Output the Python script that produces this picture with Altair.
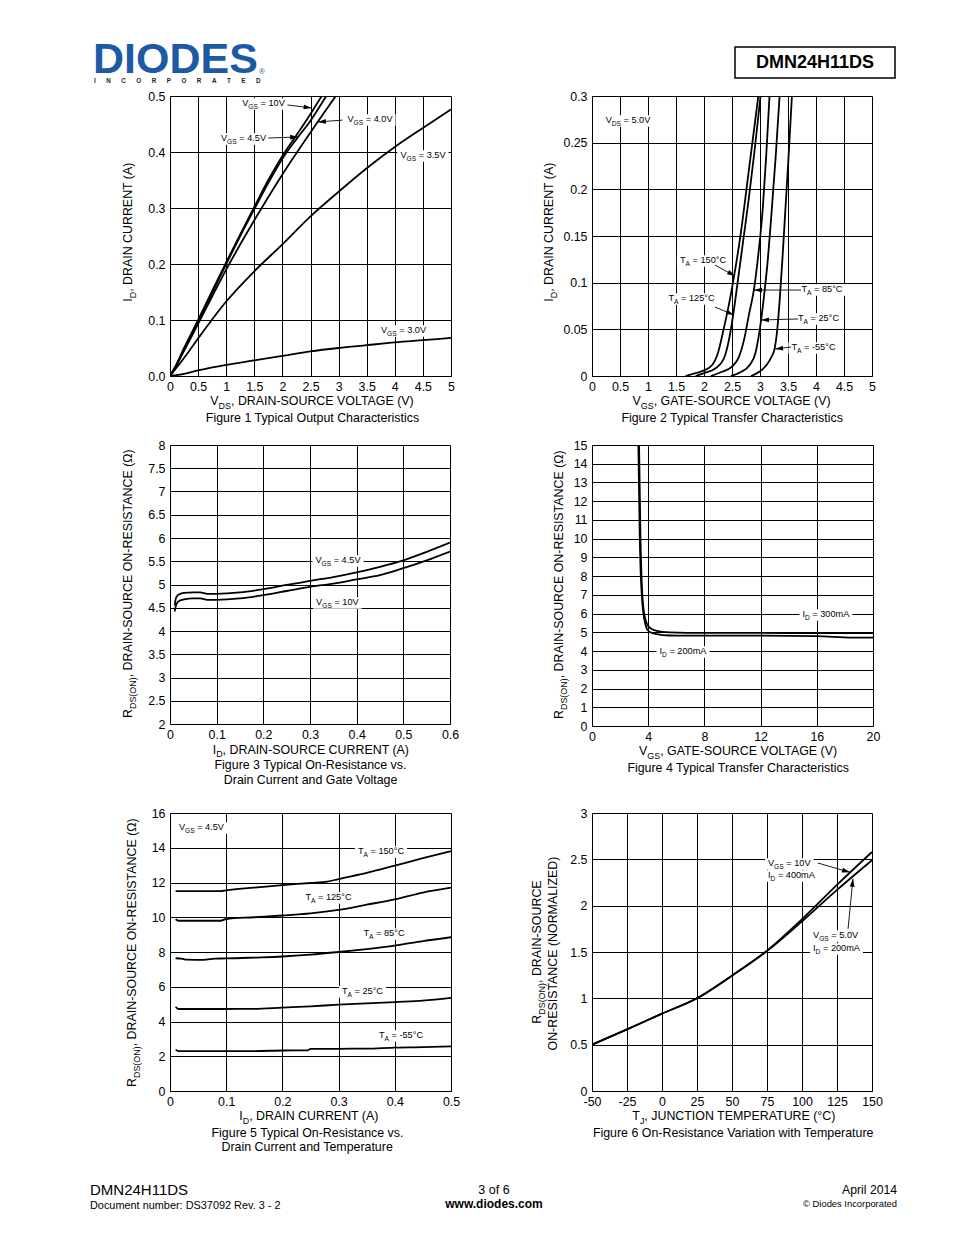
import math
import altair as alt
import pandas as pd

FONT = "Liberation Sans"
SUB = 0.72
LBL = 12.4
ANN = 9.2
BLUE = "#1c5aa6"

# ---------------- Figure 1 : ID vs VDS ----------------
f1_vds_10v = [0, 0.1, 0.25, 0.5, 0.75, 1.0, 1.25, 1.5, 1.75, 2.0, 2.25, 2.5, 2.7]
f1_id_10v = [0, 0.018, 0.05, 0.1, 0.152, 0.203, 0.253, 0.302, 0.35, 0.393, 0.43, 0.468, 0.5]
f1_vds_45v = [0, 0.1, 0.25, 0.5, 0.75, 1.0, 1.25, 1.5, 1.75, 2.0, 2.25, 2.5, 2.78]
f1_id_45v = [0, 0.017, 0.048, 0.098, 0.148, 0.2, 0.25, 0.298, 0.345, 0.388, 0.423, 0.456, 0.5]
f1_vds_40v = [0, 0.1, 0.25, 0.5, 0.75, 1.0, 1.5, 2.0, 2.5, 2.95]
f1_id_40v = [0, 0.016, 0.045, 0.093, 0.142, 0.19, 0.278, 0.36, 0.435, 0.5]
f1_vds_35v = [0, 0.25, 0.5, 1, 1.5, 2, 2.5, 3, 3.5, 4, 4.5, 5]
f1_id_35v = [0, 0.032, 0.067, 0.133, 0.187, 0.235, 0.285, 0.329, 0.371, 0.409, 0.443, 0.476]
f1_vds_30v = [0, 0.25, 0.5, 1, 1.5, 2, 2.5, 3, 3.5, 4, 4.5, 5]
f1_id_30v = [0, 0.004, 0.01, 0.02, 0.028, 0.036, 0.044, 0.05, 0.055, 0.06, 0.064, 0.068]
f1_xticks = [0, 0.5, 1, 1.5, 2, 2.5, 3, 3.5, 4, 4.5, 5]
f1_yticks = [0, 0.1, 0.2, 0.3, 0.4, 0.5]

# ---------------- Figure 2 : ID vs VGS ----------------
f2_vgs_150 = [1.67, 1.85, 2.0, 2.15, 2.25, 2.35, 2.45, 2.54, 2.65, 2.8, 2.97]
f2_id_150 = [0, 0.003, 0.006, 0.012, 0.025, 0.05, 0.078, 0.108, 0.15, 0.22, 0.3]
f2_vgs_125 = [1.85, 2.0, 2.2, 2.35, 2.45, 2.52, 2.6, 2.7, 2.8, 2.9, 3.01]
f2_id_125 = [0, 0.003, 0.008, 0.018, 0.04, 0.065, 0.1, 0.145, 0.19, 0.24, 0.3]
f2_vgs_85 = [2.12, 2.3, 2.5, 2.62, 2.72, 2.8, 2.89, 2.97, 3.05, 3.11, 3.17]
f2_id_85 = [0, 0.004, 0.01, 0.02, 0.04, 0.065, 0.092, 0.13, 0.18, 0.235, 0.3]
f2_vgs_25 = [2.48, 2.65, 2.82, 2.92, 2.97, 3.02, 3.08, 3.14, 3.2, 3.28, 3.35]
f2_id_25 = [0, 0.004, 0.012, 0.025, 0.04, 0.06, 0.09, 0.125, 0.17, 0.235, 0.3]
f2_vgs_m55 = [2.84, 3.0, 3.12, 3.2, 3.26, 3.3, 3.35, 3.4, 3.45, 3.51, 3.57]
f2_id_m55 = [0, 0.005, 0.012, 0.02, 0.029, 0.045, 0.08, 0.125, 0.175, 0.235, 0.3]
f2_xticks = [0, 0.5, 1, 1.5, 2, 2.5, 3, 3.5, 4, 4.5, 5]
f2_yticks = [0, 0.05, 0.1, 0.15, 0.2, 0.25, 0.3]

# ---------------- Figure 3 : RDS(on) vs ID ----------------
f3_id = [0.01, 0.012, 0.015, 0.02, 0.03, 0.05, 0.065, 0.08, 0.1, 0.15, 0.2, 0.25, 0.3, 0.35, 0.4, 0.45, 0.5, 0.55, 0.6]
f3_r_45v = [4.55, 4.68, 4.75, 4.79, 4.82, 4.83, 4.83, 4.80, 4.80, 4.83, 4.90, 4.99, 5.08, 5.16, 5.26, 5.38, 5.52, 5.70, 5.90]
f3_r_10v = [4.42, 4.52, 4.60, 4.65, 4.68, 4.70, 4.70, 4.67, 4.67, 4.70, 4.77, 4.86, 4.95, 5.02, 5.11, 5.20, 5.35, 5.52, 5.71]
f3_xticks = [0, 0.1, 0.2, 0.3, 0.4, 0.5, 0.6]
f3_yticks = [2, 2.5, 3, 3.5, 4, 4.5, 5, 5.5, 6, 6.5, 7, 7.5, 8]

# ---------------- Figure 4 : RDS(on) vs VGS ----------------
f4_vgs_300 = [3.35, 3.4, 3.45, 3.5, 3.56, 3.62, 3.7, 3.8, 3.95, 4.2, 4.6, 5.5, 8, 12, 16, 20]
f4_r_300 = [15, 12.5, 10, 8.5, 7.3, 6.6, 6.05, 5.7, 5.4, 5.2, 5.08, 5.0, 4.97, 4.97, 4.96, 4.96]
f4_vgs_200 = [3.3, 3.35, 3.4, 3.45, 3.52, 3.58, 3.66, 3.76, 3.9, 4.15, 4.6, 5.5, 8, 12, 16, 18.5, 20]
f4_r_200 = [15, 12.5, 10, 8.5, 7.3, 6.6, 6.0, 5.55, 5.2, 5.0, 4.9, 4.83, 4.82, 4.82, 4.8, 4.72, 4.72]
f4_xticks = [0, 4, 8, 12, 16, 20]
f4_yticks = list(range(0, 16))

# ---------------- Figure 5 : RDS(on) vs ID and temperature ----------------
f5_id_150 = [0.01, 0.05, 0.09, 0.1, 0.15, 0.2, 0.25, 0.28, 0.3, 0.35, 0.4, 0.45, 0.5]
f5_r_150 = [11.5, 11.5, 11.5, 11.55, 11.7, 11.85, 11.97, 12.05, 12.2, 12.55, 12.97, 13.4, 13.8]
f5_id_125 = [0.01, 0.015, 0.05, 0.09, 0.1, 0.15, 0.2, 0.25, 0.3, 0.35, 0.4, 0.45, 0.5]
f5_r_125 = [9.88, 9.8, 9.8, 9.8, 9.9, 10.0, 10.1, 10.22, 10.42, 10.72, 11.03, 11.42, 11.7]
f5_id_85 = [0.01, 0.02, 0.03, 0.06, 0.08, 0.1, 0.15, 0.2, 0.25, 0.3, 0.35, 0.4, 0.45, 0.5]
f5_r_85 = [7.64, 7.62, 7.56, 7.55, 7.62, 7.63, 7.68, 7.74, 7.85, 8.0, 8.17, 8.37, 8.63, 8.85]
f5_id_25 = [0.01, 0.015, 0.1, 0.15, 0.2, 0.25, 0.3, 0.35, 0.4, 0.45, 0.5]
f5_r_25 = [4.85, 4.72, 4.72, 4.73, 4.8, 4.87, 4.97, 5.04, 5.12, 5.2, 5.36]
f5_id_m55 = [0.01, 0.015, 0.1, 0.15, 0.2, 0.245, 0.25, 0.3, 0.35, 0.4, 0.45, 0.5]
f5_r_m55 = [2.38, 2.3, 2.3, 2.3, 2.33, 2.34, 2.42, 2.43, 2.44, 2.5, 2.52, 2.57]
f5_xticks = [0, 0.1, 0.2, 0.3, 0.4, 0.5]
f5_yticks = [0, 2, 4, 6, 8, 10, 12, 14, 16]

# ---------------- Figure 6 : normalized RDS(on) vs TJ ----------------
f6_tj = [-50, -25, 0, 25, 50, 75, 100, 125, 150]
f6_r_10v = [0.5, 0.665, 0.835, 1.0, 1.245, 1.515, 1.855, 2.225, 2.58]
f6_r_5v = [0.5, 0.665, 0.835, 1.0, 1.245, 1.51, 1.83, 2.17, 2.49]
f6_xticks = [-50, -25, 0, 25, 50, 75, 100, 125, 150]
f6_yticks = [0, 0.5, 1, 1.5, 2, 2.5, 3]

# ---------------- text helpers ----------------
AW = {' ': 278, '!': 278, '(': 333, ')': 333, ',': 278, '-': 333, '.': 278, '/': 278, ':': 278,
      '=': 584, '°': 400, 'Ω': 768, '©': 737,
      'A': 667, 'B': 667, 'C': 722, 'D': 722, 'E': 667, 'F': 611, 'G': 778, 'H': 722, 'I': 278,
      'J': 500, 'K': 667, 'L': 556, 'M': 833, 'N': 722, 'O': 778, 'P': 667, 'Q': 778, 'R': 722,
      'S': 667, 'T': 611, 'U': 722, 'V': 667, 'W': 944, 'X': 667, 'Y': 667, 'Z': 611,
      'a': 556, 'b': 556, 'c': 500, 'd': 556, 'e': 556, 'f': 278, 'g': 556, 'h': 556, 'i': 222,
      'j': 222, 'k': 500, 'l': 222, 'm': 833, 'n': 556, 'o': 556, 'p': 556, 'q': 556, 'r': 333,
      's': 500, 't': 278, 'u': 556, 'v': 500, 'w': 722, 'x': 500, 'y': 500, 'z': 500}


def tw(s, size):
    return sum(AW.get(c, 556) for c in s) * size / 1000.0


ONE = alt.Data(values=[{"k": 0}])


def ptxt(text, x, y, size, align="left", angle=None, bold=False, color="black"):
    kw = dict(text=text, font=FONT, fontSize=size, align=align, baseline="alphabetic", color=color)
    if angle is not None:
        kw["angle"] = angle
    if bold:
        kw["fontWeight"] = "bold"
    return alt.Chart(ONE).mark_text(**kw).encode(x=alt.value(x), y=alt.value(y))


def seg_layout(segs, size):
    out, pos = [], 0.0
    for s, sub in segs:
        fs = size * SUB if sub else size
        lead = len(s) - len(s.lstrip(" "))
        out.append((s.strip(" "), pos + tw(" " * lead, fs), fs, sub))
        pos += tw(s, fs)
    return out, pos


def rich_px(segs, cx, cy, size, align="center"):
    items, total = seg_layout(segs, size)
    x0 = cx - total / 2 if align == "center" else cx
    base = cy + 0.355 * size
    return [ptxt(t, x0 + off, base + (0.28 * size if sub else 0), fs)
            for t, off, fs, sub in items if t]


def rich_px_v(segs, cx, cy, size):
    items, total = seg_layout(segs, size)
    y0 = cy + total / 2
    base = cx + 0.355 * size
    return [ptxt(t, base + (0.28 * size if sub else 0), y0 - off, fs, angle=270)
            for t, off, fs, sub in items if t]


class Frame:
    """Linear mapping of a panel's data domain onto its pixel box (same as the chart scales)."""

    def __init__(self, xdom, ydom, w, h):
        self.xdom, self.ydom, self.w, self.h = xdom, ydom, w, h

    def px(self, x):
        return (x - self.xdom[0]) / (self.xdom[1] - self.xdom[0]) * self.w

    def py(self, y):
        return self.h - (y - self.ydom[0]) / (self.ydom[1] - self.ydom[0]) * self.h


def anno(fr, segs, xd, yd, align="center", size=ANN):
    items, total = seg_layout(segs, size)
    cx, cy = fr.px(xd), fr.py(yd)
    x0 = cx - total / 2 if align == "center" else cx
    L = [alt.Chart(ONE).mark_rect(color="white").encode(
        x=alt.value(x0 - 3), x2=alt.value(x0 + total + 3), y=alt.value(cy - 4.8), y2=alt.value(cy + 6.8))]
    base = cy + 0.355 * size
    for t, off, fs, sub in items:
        if t:
            L.append(ptxt(t, x0 + off, base + (0.28 * size if sub else 0), fs))
    return L


HEAD = "M0,0L0.6,2L-0.6,2Z"


def arrow(fr, x1, y1, x2, y2):
    a1, b1, a2, b2 = fr.px(x1), fr.py(y1), fr.px(x2), fr.py(y2)
    ang = math.degrees(math.atan2(a2 - a1, -(b2 - b1))) % 360
    rule = alt.Chart(ONE).mark_rule(color="black", strokeWidth=0.9).encode(
        x=alt.value(a1), y=alt.value(b1), x2=alt.value(a2), y2=alt.value(b2))
    head = alt.Chart(ONE).mark_point(shape=HEAD, size=64, angle=ang, filled=True, color="black",
                                     opacity=1, strokeWidth=0).encode(x=alt.value(a2), y=alt.value(b2))
    return [rule, head]


def curves(pairs):
    rows = []
    for name, xs, ys in pairs:
        for a, b in zip(xs, ys):
            rows.append({"x": a, "y": b, "s": name})
    return pd.DataFrame(rows)


def panel(df, xdom, ydom, xvals, yvals, w, h, anns, arrows, texts, xfmt="~g", yfmt="~g", xexpr=None):
    fr = Frame(xdom, ydom, w, h)
    xa = dict(values=xvals, title=None)
    if xexpr:
        xa["labelExpr"] = xexpr
    else:
        xa["format"] = xfmt
    base = alt.Chart(df).mark_line(color="black", strokeWidth=1.8, interpolate="monotone", clip=True).encode(
        x=alt.X("x:Q", scale=alt.Scale(domain=xdom, nice=False, zero=False), axis=alt.Axis(**xa)),
        y=alt.Y("y:Q", scale=alt.Scale(domain=ydom, nice=False, zero=False),
                axis=alt.Axis(values=yvals, format=yfmt, title=None)),
        detail="s:N")
    L = [base]
    for a in anns:
        L += anno(fr, *a)
    for ar in arrows:
        L += arrow(fr, *ar)
    L += texts
    return alt.layer(*L).properties(width=w, height=h)


def titles(xsegs, xc, xy, caps, capx, capys, ylines):
    L = rich_px(xsegs, xc, xy, LBL)
    for c, cy in zip(caps, capys):
        L += rich_px([(c, 0)], capx, cy, LBL)
    for segs, cx, cy in ylines:
        L += rich_px_v(segs, cx, cy, LBL)
    return L


def VGS(v):
    return [("V", 0), ("GS", 1), (" = " + v, 0)]


def TA(v):
    return [("T", 0), ("A", 1), (" = " + v, 0)]


def ID(v):
    return [("I", 0), ("D", 1), (" = " + v, 0)]


ID_TITLE = [("I", 0), ("D", 1), (", DRAIN CURRENT (A)", 0)]
RDS_TITLE = [("R", 0), ("DS(ON)", 1), (", DRAIN-SOURCE ON-RESISTANCE (Ω)", 0)]
VGS_TITLE = [("V", 0), ("GS", 1), (", GATE-SOURCE VOLTAGE (V)", 0)]

# ---------------- panels ----------------
p1 = panel(
    curves([("10V", f1_vds_10v, f1_id_10v), ("4.5V", f1_vds_45v, f1_id_45v), ("4.0V", f1_vds_40v, f1_id_40v),
            ("3.5V", f1_vds_35v, f1_id_35v), ("3.0V", f1_vds_30v, f1_id_30v)]),
    [0, 5], [0, 0.5], f1_xticks, f1_yticks, 281, 280,
    [(VGS("10V"), 1.664, 0.4875), (VGS("4.0V"), 3.559, 0.459), (VGS("4.5V"), 1.308, 0.425),
     (VGS("3.5V"), 4.502, 0.3946), (VGS("3.0V"), 4.155, 0.0821)],
    [(2.09, 0.484, 2.52, 0.4786), (3.07, 0.457, 2.633, 0.4536), (1.75, 0.425, 2.28, 0.4268)],
    titles([("V", 0), ("DS", 1), (", DRAIN-SOURCE VOLTAGE (V)", 0)], 143, 305,
           ["Figure 1 Typical Output Characteristics"], 143, [322],
           [(ID_TITLE, -42, 136)]),
    yfmt=".1f")

p2 = panel(
    curves([("150", f2_vgs_150, f2_id_150), ("125", f2_vgs_125, f2_id_125), ("85", f2_vgs_85, f2_id_85),
            ("25", f2_vgs_25, f2_id_25), ("-55", f2_vgs_m55, f2_id_m55)]),
    [0, 5], [0, 0.3], f2_xticks, f2_yticks, 280, 280,
    [([("V", 0), ("DS", 1), (" = 5.0V", 0)], 0.643, 0.2743), (TA("150°C"), 1.982, 0.1243),
     (TA("125°C"), 1.777, 0.0836), (TA("85°C"), 4.107, 0.0932), (TA("25°C"), 4.045, 0.0621),
     (TA("-55°C"), 3.955, 0.0311)],
    [(2.196, 0.1189, 2.554, 0.1071), (2.196, 0.0739, 2.536, 0.0654), (3.732, 0.0921, 2.893, 0.0921),
     (3.679, 0.0611, 3.018, 0.06), (3.554, 0.0311, 3.268, 0.0289)],
    titles(VGS_TITLE, 141, 305, ["Figure 2 Typical Transfer Characteristics"], 141, [322],
           [(ID_TITLE, -43, 136)]))

p3 = panel(
    curves([("4.5V", f3_id, f3_r_45v), ("10V", f3_id, f3_r_10v)]),
    [0, 0.6], [2, 8], f3_xticks, f3_yticks, 280, 279,
    [(VGS("4.5V"), 0.36, 5.527), (VGS("10V"), 0.3587, 4.624)],
    [],
    titles([("I", 0), ("D", 1), (", DRAIN-SOURCE CURRENT (A)", 0)], 141, 304.5,
           ["Figure 3 Typical On-Resistance vs.", "Drain Current and Gate Voltage"], 141, [320, 335],
           [(RDS_TITLE, -42, 138)]))

p4 = panel(
    curves([("300mA", f4_vgs_300, f4_r_300), ("200mA", f4_vgs_200, f4_r_200)]),
    [0, 20], [0, 15], f4_xticks, f4_yticks, 281, 281,
    [(ID("300mA"), 16.65, 5.977), (ID("200mA"), 6.477, 4.0)],
    [],
    titles(VGS_TITLE, 147.5, 306, ["Figure 4 Typical Transfer Characteristics"], 147, [323],
           [(RDS_TITLE, -33, 139)]))

p5 = panel(
    curves([("150", f5_id_150, f5_r_150), ("125", f5_id_125, f5_r_125), ("85", f5_id_85, f5_r_85),
            ("25", f5_id_25, f5_r_25), ("-55", f5_id_m55, f5_r_m55)]),
    [0, 0.5], [0, 16], f5_xticks, f5_yticks, 281, 278,
    [(VGS("4.5V"), 0.056, 15.19), (TA("150°C"), 0.3754, 13.81), (TA("125°C"), 0.282, 11.17),
     (TA("85°C"), 0.3808, 9.09), (TA("25°C"), 0.3425, 5.76), (TA("-55°C"), 0.411, 3.22)],
    [],
    titles(ID_TITLE, 139, 303, ["Figure 5 Typical On-Resistance vs.", "Drain Current and Temperature"],
           138, [320, 334], [(RDS_TITLE, -38, 139)]))

p6 = panel(
    curves([("10V", f6_tj, f6_r_10v), ("5V", f6_tj, f6_r_5v)]),
    [-50, 150], [0, 3], f6_xticks, f6_yticks, 280, 278,
    [(VGS("10V"), 75.7, 2.46, "left"), (ID("400mA"), 75.7, 2.331, "left"),
     (VGS("5.0V"), 107.9, 1.683, "left"), (ID("200mA"), 107.9, 1.543, "left")],
    [(111.4, 2.46, 134.3, 2.36), (132.9, 1.75, 136.4, 2.29)],
    titles([("T", 0), ("J", 1), (", JUNCTION TEMPERATURE (°C)", 0)], 142.5, 303,
           ["Figure 6 On-Resistance Variation with Temperature"], 142.5, [320],
           [([("R", 0), ("DS(ON)", 1), (", DRAIN-SOURCE", 0)], -55, 139),
            ([("ON-RESISTANCE (NORMALIZED)", 0)], -39, 140)]),
    xexpr="'' + datum.value")


# ---------------- page header / footer (page coords minus 8px margin) ----------------
def header():
    L = [alt.Chart(ONE).mark_rect(color="white").encode(
        x=alt.value(0), x2=alt.value(1), y=alt.value(0), y2=alt.value(1))]
    L.append(ptxt("DIODES", 85, 65, 43, bold=True, color=BLUE))
    gap = "\u00a0" * 6
    L.append(ptxt(gap.join("INCORPORATED"), 86, 75, 6.3, bold=True, color="#222222"))
    L.append(ptxt("®", 251, 66, 8, color=BLUE))
    L.append(alt.Chart(ONE).mark_rect(filled=False, color="black", strokeWidth=1.5).encode(
        x=alt.value(727), x2=alt.value(887), y=alt.value(39), y2=alt.value(70)))
    L.append(ptxt("DMN24H11DS", 807, 60.4, 18, align="center", bold=True))
    L.append(ptxt("DMN24H11DS", 82, 1187.4, 15))
    L.append(ptxt("Document number: DS37092 Rev. 3 - 2", 82, 1201, 10.9))
    L.append(ptxt("3 of 6", 486, 1185.5, 12.5, align="center"))
    L.append(ptxt("www.diodes.com", 486, 1200.3, 12, align="center", bold=True))
    L.append(ptxt("April 2014", 889, 1186.4, 12.2, align="right"))
    L.append(ptxt("© Diodes Incorporated", 889, 1199.4, 9.4, align="right"))
    return alt.layer(*L).properties(width=1, height=88)


def spacer(w, h):
    return alt.Chart(ONE).mark_rect(opacity=0).encode(
        x=alt.value(0), x2=alt.value(w), y=alt.value(0), y2=alt.value(h)).properties(width=w, height=h)


items = [
    header(), spacer(1, 88), spacer(1, 1), spacer(1, 88),
    spacer(162, 1), p1, spacer(133, 1), p2,
    spacer(1, 1), spacer(1, 69), spacer(1, 1), spacer(1, 68),
    spacer(159, 1), p3, spacer(129, 1), p4,
    spacer(1, 1), spacer(1, 87), spacer(1, 1), spacer(1, 86),
    spacer(157, 1), p5, spacer(141, 1), p6,
]

chart = alt.concat(*items, columns=4, spacing=0, align="none", bounds="flush").properties(
    padding=0
).configure_view(stroke=None).configure_axis(
    domainColor="black", domainWidth=1, gridColor="black", gridOpacity=1, gridWidth=1,
    ticks=False, tickSize=0, labelFont=FONT, labelFontSize=LBL, labelColor="black",
    labelFlush=False, labelOverlap=False
).configure_axisX(labelPadding=4).configure_axisY(labelPadding=5)

chart.save("out.html", embed_options={"renderer": "svg", "actions": False})
